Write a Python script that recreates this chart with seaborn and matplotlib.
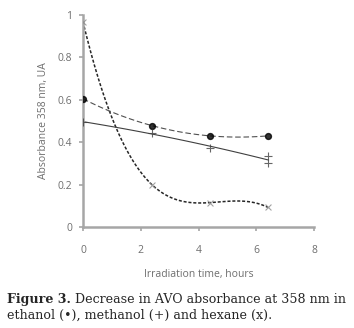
import numpy as np
import pandas as pd
import seaborn as sns
import matplotlib
matplotlib.use("Agg")
import matplotlib.pyplot as plt

# values
time_ethanol = [0, 2.4, 4.4, 6.4]
abs_ethanol = [0.605, 0.478, 0.430, 0.430]

time_methanol = [0, 2.4, 4.4, 6.4, 6.4]
abs_methanol = [0.495, 0.445, 0.374, 0.336, 0.300]

time_hexane = [0, 2.4, 4.4, 6.4]
abs_hexane = [0.968, 0.198, 0.115, 0.093]

x_ticks = [0, 2, 4, 6, 8]
y_ticks = [0, 0.2, 0.4, 0.6, 0.8, 1]
y_tick_labels = ["0", "0.2", "0.4", "0.6", "0.8", "1"]

df_eth = pd.DataFrame({"t": time_ethanol, "a": abs_ethanol})
df_met = pd.DataFrame({"t": time_methanol, "a": abs_methanol})
df_hex = pd.DataFrame({"t": time_hexane, "a": abs_hexane})

sns.set_style("white")
plt.rcParams["font.family"] = ["Open Sans", "DejaVu Sans"]

axis_gray = "#a6a6a6"
text_gray = "#6e6e6e"

fig = plt.figure(figsize=(3.54, 3.28), dpi=100)
ax = fig.add_axes([0.2345, 0.308, 0.6525, 0.646])

# polynomial trendlines, like the spreadsheet did
sns.regplot(data=df_hex, x="t", y="a", order=3, ci=None, ax=ax,
            marker="x", color="#808080",
            scatter_kws={"s": 18, "linewidths": 0.8, "color": "#8a8a8a", "zorder": 4},
            line_kws={"color": "#262626", "lw": 1.1, "ls": (0, (2.0, 1.2))})
sns.regplot(data=df_eth, x="t", y="a", order=3, ci=None, ax=ax,
            marker="o",
            scatter_kws={"s": 18, "color": "black", "zorder": 4},
            line_kws={"color": "#505050", "lw": 0.8, "ls": (0, (5, 2.5))})
sns.regplot(data=df_met, x="t", y="a", order=2, ci=None, ax=ax,
            marker="+",
            scatter_kws={"s": 30, "linewidths": 0.8, "color": "#404040", "zorder": 4},
            line_kws={"color": "#404040", "lw": 0.8})

ax.set_xlim(0, 8)
ax.set_ylim(0, 1)
ax.set_xticks(x_ticks)
ax.set_yticks(y_ticks)
ax.set_yticklabels(y_tick_labels)

for side in ["top", "right"]:
    ax.spines[side].set_visible(False)
for side in ["left", "bottom"]:
    ax.spines[side].set_color(axis_gray)
    ax.spines[side].set_linewidth(1.8)

ax.tick_params(axis="both", direction="out", length=3, width=1.2,
               color=axis_gray, labelcolor=text_gray, labelsize=7.5)
ax.tick_params(axis="x", pad=10)
ax.tick_params(axis="y", pad=5)
ax.tick_params(left=True, bottom=True)

ax.set_xlabel("Irradiation time, hours", fontsize=7.5, color=text_gray, labelpad=9)
ax.set_ylabel("Absorbance 358 nm, UA", fontsize=7.5, color=text_gray, labelpad=6)

# caption below the chart
cap_font = "DejaVu Serif"
cap_size = 9.1
fig.canvas.draw()
renderer = fig.canvas.get_renderer()
bold = fig.text(7 / 354, 1 - 303 / 328, "Figure 3.", fontsize=cap_size,
                fontweight="bold", family=cap_font, va="baseline")
bb = bold.get_window_extent(renderer)
fig.text((bb.x1 + 4) / 354, 1 - 303 / 328,
         "Decrease in AVO absorbance at 358 nm in",
         fontsize=cap_size, family=cap_font, va="baseline")
fig.text(7 / 354, 1 - 319 / 328, "ethanol (\u2022), methanol (+) and hexane (x).",
         fontsize=cap_size, family=cap_font, va="baseline")

fig.savefig("out.png", dpi=100)
